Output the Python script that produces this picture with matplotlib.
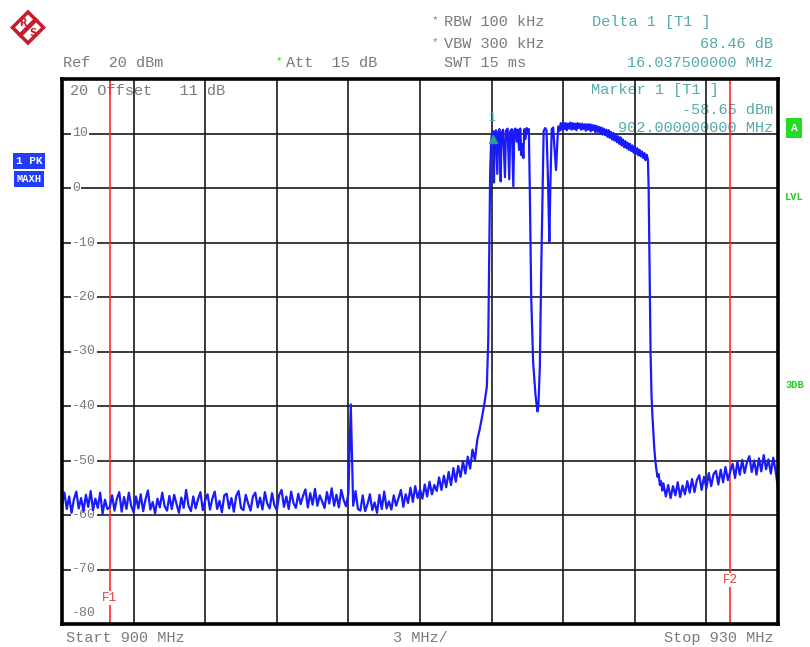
import numpy as np
import matplotlib
matplotlib.use("Agg")
import matplotlib.pyplot as plt
import matplotlib.transforms as mtransforms
from matplotlib.patches import Polygon

# ---------------- data ----------------
f_start, f_stop = 900.0, 930.0        # MHz
ref_level, bottom_level = 20, -80      # dBm
y_labels = [10, 0, -10, -20, -30, -40, -50, -60, -70, -80]

# noise floor left of the channel, sweep grid 900.0 .. 917.7 MHz, 0.1 MHz step
left_start, left_step = 900.0, 0.1
left_levels = [
    -58.2, -55.9, -58.9, -56.6, -59.6, -57.1, -55.7, -58.8, -56.9, -59.3,
    -56.3, -58.5, -55.6, -59.1, -57.0, -58.7, -55.9, -59.8, -57.2, -58.9,
    -58.6, -56.4, -59.2, -57.0, -55.8, -59.4, -56.7, -58.9, -55.9, -58.3,
    -59.5, -56.6, -58.8, -56.2, -59.3, -57.1, -55.5, -59.0, -57.6, -59.7,
    -57.0, -58.6, -55.9, -58.4, -59.2, -56.5, -58.9, -56.3, -58.0, -59.6,
    -56.8, -58.7, -55.4, -58.3, -59.3, -56.6, -58.8, -57.1, -55.8, -59.1,
    -57.3, -56.2, -59.0, -57.0, -55.7, -58.9, -57.4, -59.5, -56.4, -56.1,
    -58.8, -56.9, -59.4, -56.5, -55.6, -58.7, -59.1, -56.3, -57.9, -59.2,
    -56.6, -55.9, -58.6, -56.8, -59.0, -55.8, -57.9, -58.8, -56.0, -58.2,
    -59.1, -56.3, -55.4, -58.5, -56.6, -58.9, -55.7, -57.8, -58.7, -56.1,
    -58.0, -56.5, -55.3, -58.6, -56.0, -58.1, -55.2, -58.3, -56.4, -57.5,
    -58.7, -55.8, -57.9, -55.1, -58.3, -56.3, -58.6, -55.4, -57.2, -58.4,
    -56.0, -39.7,
    -58.3, -55.6, -58.9, -59.2, -56.4, -59.3, -58.0, -56.2,
    -59.1, -57.7, -59.6, -56.3, -58.9, -55.7, -58.8, -57.5, -59.0, -56.4,
    -58.3, -56.9, -55.4, -58.5, -56.2, -57.8, -55.0, -57.6, -54.7, -56.9,
    -55.3, -57.0, -54.4, -56.6, -53.9, -56.2, -54.5, -55.6, -53.1, -55.4,
    -52.8, -54.9, -52.1, -54.5, -51.4, -53.9, -51.0, -53.0, -50.2, -52.4,
    -49.3, -51.5, -48.0, -49.9, -46.2, -44.3, -42.0, -39.5,
]

# rising edge, comb, notch (explicit sweep points)
chan_freq = [
    917.80, 917.86, 917.90, 917.94, 917.98, 918.02, 918.05,
    918.07, 918.10, 918.13, 918.18, 918.24, 918.28, 918.33, 918.38, 918.42,
    918.48, 918.56, 918.60, 918.67, 918.74, 918.78, 918.85, 918.91, 918.95,
    919.00, 919.05, 919.10, 919.15, 919.20, 919.25, 919.30, 919.33, 919.37,
    919.42, 919.47, 919.52, 919.56,
    919.60, 919.66, 919.74, 919.84, 919.92, 919.96, 920.02, 920.08, 920.14,
    920.18, 920.24, 920.30, 920.36, 920.42, 920.46, 920.52, 920.58, 920.64,
    920.70, 920.76, 920.80,
]
chan_levels = [
    -36.5, -28.0, -12.0, 3.0, 8.5, 10.2, 9.0,
    10.4, 1.0, 10.1, 10.6, 2.6, 10.3, 10.8, 1.2, 10.2,
    10.7, 2.0, 10.5, 10.9, 1.6, 10.4, 10.8, 0.3, 10.6,
    10.9, 8.5, 10.7, 7.0, 10.9, 6.0, 8.0, 5.5, 10.8,
    9.0, 11.0, 10.3, 10.8,
    0.0, -20.0, -32.0, -38.0, -41.0, -40.0, -33.0, -15.0, 0.0,
    10.4, 11.0, 10.6, 2.0, -9.8, 0.0, 10.8, 11.1, 7.0,
    3.3, 9.0, 11.3,
]

# flat top of the channel, sweep grid 920.85 .. 924.50 MHz, 0.05 MHz step
top_start, top_step = 920.85, 0.05
top_levels = [
    10.5, 11.9, 10.7, 12.0, 10.8, 11.9, 10.6, 11.8, 10.9, 12.0,
    10.7, 11.9, 10.8, 11.8, 10.6, 11.9, 11.0, 11.8, 10.7, 11.8,
    10.8, 11.7, 10.5, 11.7, 10.7, 11.7, 10.4, 11.6, 10.6, 11.5,
    10.2, 11.4, 10.3, 11.2, 10.0, 11.1, 9.8, 10.9, 9.7, 10.7,
    9.4, 10.6, 9.2, 10.3, 8.9, 10.1, 8.7, 9.8, 8.4, 9.5,
    8.1, 9.3, 7.8, 8.9, 7.5, 8.6, 7.3, 8.3, 7.0, 8.1,
    6.8, 7.8, 6.5, 7.5, 6.3, 7.3, 6.0, 7.0, 5.8, 6.7,
    5.5, 6.4, 5.1, 6.1,
]

# falling edge
fall_freq = [924.55, 924.58, 924.62, 924.66, 924.70, 924.74, 924.78, 924.82,
             924.86, 924.90, 924.95, 925.00, 925.05, 925.10, 925.15]
fall_levels = [5.2, 0.0, -15.0, -30.0, -38.0, -42.0, -45.0, -48.0,
               -50.0, -51.5, -53.0, -52.5, -54.5, -53.8, -55.5]

# noise floor right of the channel, sweep grid 925.2 .. 930.0 MHz, 0.1 MHz step
right_start, right_step = 925.2, 0.1
right_levels = [
    -54.2, -56.6, -54.5, -56.9, -54.7, -56.4, -54.0, -56.7, -54.6,
    -56.2, -53.8, -55.9, -53.4, -55.8, -53.6, -52.7, -55.4, -53.0, -55.1,
    -52.3, -54.7, -52.5, -51.9, -54.4, -51.7, -54.0, -51.2, -53.6, -52.0,
    -50.6, -53.2, -50.2, -52.6, -49.9, -52.3, -50.3, -49.2, -52.1, -50.0,
    -52.6, -49.6, -52.0, -49.0, -51.6, -49.8, -52.4, -49.5, -51.9, -55.0,
]

marker_freq, marker_level = 918.05, 9.0
f1_freq, f2_freq = 902.0, 928.0

# ---------------- assemble trace ----------------
left_freq = left_start + left_step * np.arange(len(left_levels))
top_freq = top_start + top_step * np.arange(len(top_levels))
right_freq = right_start + right_step * np.arange(len(right_levels))
freq = np.concatenate([left_freq, chan_freq, top_freq, fall_freq, right_freq])
level = np.concatenate([left_levels, chan_levels, top_levels, fall_levels, right_levels])

# ---------------- figure ----------------
W, H = 810, 647
fig = plt.figure(figsize=(W / 100, H / 100), dpi=100)
fig.patch.set_facecolor("white")

L, R, T, B = 62, 778, 79, 624
ax = fig.add_axes([L / W, (H - B) / H, (R - L) / W, (B - T) / H])
ax.set_xlim(f_start, f_stop)
ax.set_ylim(bottom_level, ref_level)
ax.set_xticks([])
ax.set_yticks([])
for s in ax.spines.values():
    s.set_linewidth(2.6)
    s.set_color("black")
    s.set_zorder(6)

ov = fig.add_axes([0, 0, 1, 1], zorder=10)
ov.set_xlim(0, W)
ov.set_ylim(H, 0)
ov.axis("off")

gray = "#7a7a7a"
teal = "#55aaaa"
green = "#22cc22"
mono = "Liberation Mono"
fs = 11

# grid
div_x = (f_stop - f_start) / 10
for i in range(1, 10):
    ax.axvline(f_start + i * div_x, color="#1a1a1a", lw=1.2, zorder=2)
for v in range(bottom_level + 10, ref_level, 10):
    ax.axhline(v, color="#1a1a1a", lw=1.2, zorder=2)

# F1 / F2 lines
blend = mtransforms.blended_transform_factory(ax.transData, ov.transData)
for fx, lab, ly in [(f1_freq, "F1", 598), (f2_freq, "F2", 580)]:
    ax.axvline(fx, color="#ff2a2a", lw=1.2, zorder=3)
    ax.text(fx, ly, lab, transform=blend, ha="center", va="center", color="#e04040",
            fontsize=9, family=mono, zorder=4,
            bbox=dict(facecolor="white", edgecolor="none", pad=0.6))

# y labels
for v in y_labels:
    yy = v if v != bottom_level else bottom_level + 2.0
    ax.text(f_start + 0.42, yy, str(v), ha="left", va="center", color=gray,
            fontsize=9.5, family=mono, zorder=4,
            bbox=dict(facecolor="white", edgecolor="none", pad=0.8))
ax.text(f_start + 0.35, ref_level - 2.2, "20 Offset   11 dB", ha="left", va="center",
        color=gray, fontsize=fs, family=mono, zorder=1)

# trace
ax.plot(freq, level, color="#1a1aff", lw=1.6, zorder=5)
ax.plot([marker_freq], [marker_level], marker="^", color="#2a9d8f", ms=6, zorder=6,
        linestyle="none")
ax.text(marker_freq - 0.05, marker_level + 3.8, "1", color=teal, fontsize=8.5,
        family=mono, ha="center", va="center", zorder=6)

# marker texts inside the plot (under the grid)
ax.text(591, 90, "Marker 1 [T1 ]", transform=ov.transData, color=teal, fontsize=fs,
        family=mono, ha="left", va="center", zorder=1)
ax.text(773, 110, "-58.65 dBm", transform=ov.transData, color=teal, fontsize=fs,
        family=mono, ha="right", va="center", zorder=1)
ax.text(773, 128, "902.000000000 MHz", transform=ov.transData, color=teal, fontsize=fs,
        family=mono, ha="right", va="center", zorder=1)

# header
ov.text(63, 63, "Ref  20 dBm", color=gray, fontsize=fs, family=mono, ha="left", va="center")
ov.text(279, 61, "*", color=green, fontsize=8, family=mono, ha="center", va="center")
ov.text(286, 63, "Att  15 dB", color=gray, fontsize=fs, family=mono, ha="left", va="center")
ov.text(435, 20, "*", color=green, fontsize=8, family=mono, ha="center", va="center")
ov.text(444, 22, "RBW 100 kHz", color=gray, fontsize=fs, family=mono, ha="left", va="center")
ov.text(435, 42, "*", color=green, fontsize=8, family=mono, ha="center", va="center")
ov.text(444, 44, "VBW 300 kHz", color=gray, fontsize=fs, family=mono, ha="left", va="center")
ov.text(444, 63, "SWT 15 ms", color=gray, fontsize=fs, family=mono, ha="left", va="center")
ov.text(592, 22, "Delta 1 [T1 ]", color=teal, fontsize=fs, family=mono, ha="left", va="center")
ov.text(773, 44, "68.46 dB", color=teal, fontsize=fs, family=mono, ha="right", va="center")
ov.text(773, 63, "16.037500000 MHz", color=teal, fontsize=fs, family=mono, ha="right", va="center")

# footer
ov.text(66, 638, "Start 900 MHz", color=gray, fontsize=fs, family=mono, ha="left", va="center")
ov.text(420, 638, "3 MHz/", color=gray, fontsize=fs, family=mono, ha="center", va="center")
ov.text(773, 638, "Stop 930 MHz", color=gray, fontsize=fs, family=mono, ha="right", va="center")

# left trace info boxes
ov.text(29, 161, "1 PK", color="white", fontsize=8, family=mono, fontweight="bold",
        ha="center", va="center",
        bbox=dict(facecolor="#1f3cff", edgecolor="none", boxstyle="square,pad=0.25"))
ov.text(29, 179, "MAXH", color="white", fontsize=7.5, family=mono, fontweight="bold",
        ha="center", va="center",
        bbox=dict(facecolor="#1f3cff", edgecolor="none", boxstyle="square,pad=0.25"))

# right side indicators
ov.text(794, 128, "A", color="white", fontsize=8, family=mono, fontweight="bold",
        ha="center", va="center",
        bbox=dict(facecolor="#22dd22", edgecolor="none", boxstyle="square,pad=0.45"))
ov.text(785, 197, "LVL", color=green, fontsize=7.5, family=mono, fontweight="bold",
        ha="left", va="center")
ov.text(785, 385, "3DB", color=green, fontsize=7.5, family=mono, fontweight="bold",
        ha="left", va="center")

# R&S logo
cx, cy, r = 28, 27.5, 18
red = "#c41e2a"
ov.add_patch(Polygon([[cx, cy - r], [cx + r, cy], [cx, cy + r], [cx - r, cy]],
                     closed=True, facecolor=red, edgecolor="none"))
ri = r - 5
ov.add_patch(Polygon([[cx, cy - ri], [cx + ri, cy], [cx, cy + ri], [cx - ri, cy]],
                     closed=True, facecolor="white", edgecolor="none"))
ov.plot([cx - r * 0.5, cx + r * 0.5], [cy + r * 0.5, cy - r * 0.5], color=red, lw=3.2,
        solid_capstyle="butt")
ov.text(cx - 5, cy - 5, "R", color=red, fontsize=7, fontweight="bold", ha="center",
        va="center", family="DejaVu Sans")
ov.text(cx + 5, cy + 5, "S", color=red, fontsize=7, fontweight="bold", ha="center",
        va="center", family="DejaVu Sans")

fig.savefig("out.png", dpi=100)
